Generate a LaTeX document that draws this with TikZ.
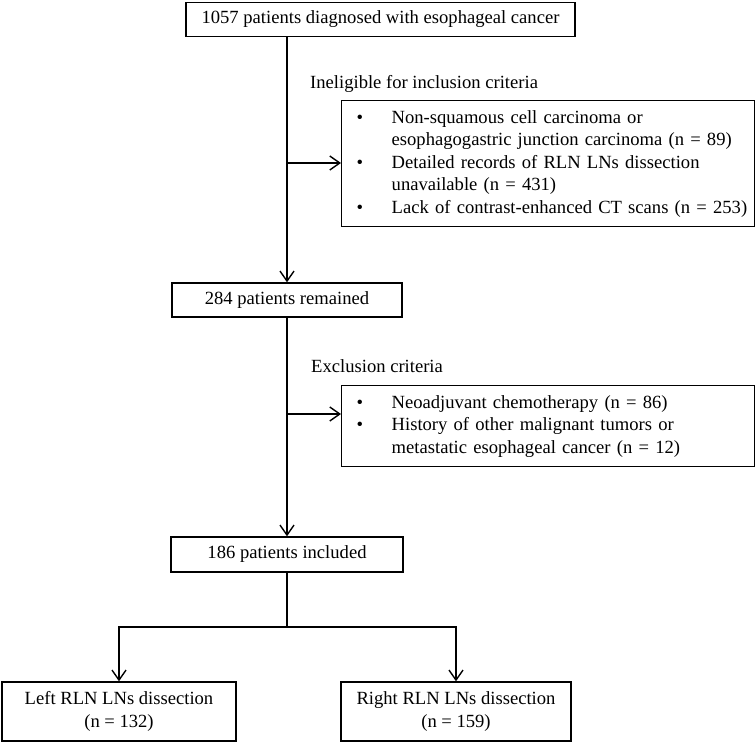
\documentclass[tikz,border=0pt]{standalone}
\usepackage{fontspec}
\setmainfont{Liberation Serif}
\usetikzlibrary{arrows.meta}
\begin{document}
\begin{tikzpicture}[x=1pt,y=-1pt,
  box/.style={draw, line width=1.4pt, inner sep=0pt, font=\fontsize{18.6}{22.5}\selectfont},
  arr/.style={line width=1.4pt, -{Straight Barb[length=10pt,width=14pt,line width=1.4pt]}},
  conn/.style={line width=1.4pt},
  lab/.style={inner sep=0pt, anchor=base west, font=\fontsize{18.6}{22.5}\selectfont}]
\useasboundingbox (0,0) rectangle (756,743);
\node[box, minimum width=389pt, minimum height=34pt] (top) at (380.5,19.5) {1057 patients diagnosed with esophageal cancer};
\node[box, minimum width=230pt, minimum height=34pt] (r284) at (287,300) {284 patients remained};
\node[lab] (lab1) at (310,89) {Ineligible for inclusion criteria};
\node[box, anchor=north west, text width=383pt, inner xsep=15pt, minimum height=126pt, align=left] (ex1) at (341,100) {%
\begin{tabular}{@{}p{35pt}@{}l@{}}
•& Non-squamous cell carcinoma or\\
 & esophagogastric junction carcinoma (n = 89)\\
•& Detailed records of RLN LNs dissection\\
 & unavailable (n = 431)\\
•& Lack of contrast-enhanced CT scans (n = 253)
\end{tabular}};
\node[lab] (lab2) at (311,373) {Exclusion criteria};
\node[box, anchor=north west, text width=383pt, inner xsep=15pt, minimum height=81pt, align=left] (ex2) at (341,385) {%
\begin{tabular}{@{}p{35pt}@{}l@{}}
•& Neoadjuvant chemotherapy (n = 86)\\
•& History of other malignant tumors or\\
 & metastatic esophageal cancer (n = 12)
\end{tabular}};
\node[box, minimum width=232pt, minimum height=35pt] (inc) at (287,554.5) {186 patients included};
\node[box, minimum width=234pt, minimum height=59pt, align=center] (left) at (119,711.5) {Left RLN LNs dissection\\(n = 132)};
\node[box, minimum width=230pt, minimum height=59pt, align=center] (right) at (456,711.5) {Right RLN LNs dissection\\(n = 159)};
\coordinate (j1) at (287,163);
\coordinate (j2) at (287,414);
\coordinate (br) at (287,627);
\draw[arr] (top.south -| r284.north) -- (r284.north);
\draw[arr] (j1) -- (j1 -| ex1.west);
\draw[arr] (r284.south) -- (inc.north);
\draw[arr] (j2) -- (j2 -| ex2.west);
\draw[conn] (inc.south) -- (br);
\draw[arr] (br) -| (left.north);
\draw[arr] (br) -| (right.north);
\end{tikzpicture}
\end{document}
